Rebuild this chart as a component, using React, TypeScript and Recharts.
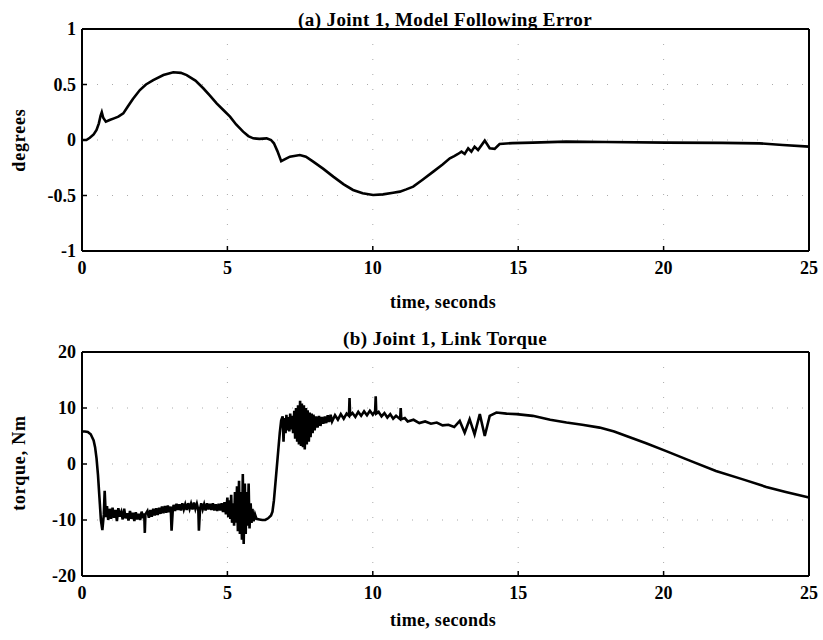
import React from 'react'
import { LineChart, Line, XAxis, YAxis, CartesianGrid } from 'recharts'

const FONT = '"Liberation Serif", "Times New Roman", serif'

const timeTicks = [0, 5, 10, 15, 20, 25]
const errorTicks = [-1, -0.5, 0, 0.5, 1]
const torqueTicks = [-20, -10, 0, 10, 20]

// (a) model following error, degrees
const errorTime = [
  0, 0.15, 0.27, 0.4, 0.5, 0.58, 0.64, 0.68, 0.73, 0.82, 0.95, 1.1, 1.25, 1.42, 1.57, 1.75, 1.99, 2.2, 2.45, 2.8,
  3.14, 3.4, 3.6, 3.9, 4.17, 4.4, 4.63, 4.86, 5.09, 5.3, 5.54, 5.72, 5.89, 6.1, 6.35, 6.5, 6.6, 6.72, 6.85, 7.0,
  7.15, 7.49, 7.7, 7.95, 8.3, 8.64, 9.0, 9.32, 9.65, 10.01, 10.35, 10.7, 10.93, 11.15, 11.39, 11.7, 12.08, 12.4,
  12.65, 12.8, 12.93, 13.05, 13.16, 13.28, 13.39, 13.5, 13.62, 13.85, 14.02, 14.19, 14.36, 14.8, 15.5, 16.65, 18.0,
  20.09, 22.0, 23.3, 24.1, 25,
]
const errorValue = [
  0, 0.0, 0.02, 0.05, 0.09, 0.15, 0.22, 0.25, 0.2, 0.165, 0.18, 0.195, 0.21, 0.24, 0.3, 0.37, 0.45, 0.5, 0.54, 0.585,
  0.61, 0.605, 0.585, 0.535, 0.466, 0.4, 0.33, 0.27, 0.21, 0.14, 0.075, 0.035, 0.015, 0.01, 0.015, 0.0, -0.03, -0.1,
  -0.19, -0.17, -0.15, -0.135, -0.15, -0.195, -0.26, -0.33, -0.4, -0.45, -0.48, -0.495, -0.49, -0.475, -0.465,
  -0.445, -0.42, -0.36, -0.285, -0.22, -0.165, -0.145, -0.126, -0.105, -0.126, -0.075, -0.105, -0.06, -0.09,
  -0.006, -0.075, -0.08, -0.036, -0.028, -0.024, -0.015, -0.018, -0.024, -0.026, -0.03, -0.045, -0.06,
]

// (b) link torque, Nm  -- [time, torque]
const torqueStart = [
  [0, 5.8], [0.1, 5.8], [0.2, 5.7], [0.3, 5.3], [0.4, 4.2], [0.45, 3.0], [0.5, 1.0], [0.55, -2], [0.6, -6],
  [0.65, -10], [0.7, -11.8], [0.75, -9], [0.78, -4.8],
]
const torqueLowBand = [
  [0.82, -9.5], [0.86, -7.5], [0.9, -10], [0.95, -8], [1.0, -9.8], [1.05, -7.8], [1.1, -9.6], [1.15, -8.2],
  [1.2, -10.2], [1.25, -7.9], [1.3, -9.4], [1.35, -8.6], [1.4, -9.9], [1.45, -8.0], [1.5, -9.7], [1.55, -8.8],
  [1.6, -10.1], [1.65, -8.4], [1.7, -9.8], [1.75, -8.7], [1.8, -10.2], [1.85, -8.6], [1.9, -9.9], [1.95, -8.9],
  [2.0, -10.0], [2.05, -8.5], [2.1, -9.7], [2.14, -8.8], [2.16, -12.3], [2.18, -9.0], [2.25, -8.4], [2.3, -9.6],
  [2.35, -8.2], [2.4, -9.4], [2.45, -8.0], [2.5, -9.2], [2.55, -7.9], [2.6, -9.1], [2.65, -7.8], [2.7, -8.9],
  [2.75, -7.6], [2.8, -8.8], [2.85, -7.5], [2.9, -8.7], [2.95, -7.4], [3.0, -8.6], [3.05, -7.6], [3.08, -11.9],
  [3.12, -8.4], [3.15, -7.3], [3.2, -8.4], [3.25, -7.1], [3.3, -8.2], [3.35, -7.2], [3.4, -8.3], [3.45, -7.0],
  [3.5, -8.1], [3.55, -7.2], [3.6, -8.2], [3.65, -7.0], [3.7, -8.0], [3.75, -7.1], [3.8, -8.1], [3.85, -6.9],
  [3.9, -8.0], [3.95, -7.1], [4.0, -8.2], [4.02, -11.9], [4.06, -8.0], [4.1, -7.0], [4.15, -8.1], [4.2, -7.2],
  [4.25, -8.3], [4.3, -7.0], [4.35, -8.1], [4.4, -7.1], [4.45, -8.2], [4.5, -7.0], [4.55, -8.3], [4.6, -7.2],
  [4.65, -8.4], [4.7, -7.1], [4.75, -8.3], [4.8, -7.0], [4.85, -8.6], [4.9, -6.8], [4.95, -9.0],
]
const torqueBurst = [
  [5.0, -6.0], [5.03, -9.5], [5.06, -6.5], [5.1, -9.8], [5.13, -5.5], [5.16, -10.5], [5.2, -7.0], [5.23, -11.0],
  [5.26, -5.0], [5.3, -10.5], [5.33, -4.0], [5.36, -12.0], [5.4, -3.0], [5.43, -12.5], [5.46, -5.0], [5.5, -13.5],
  [5.53, -1.8], [5.56, -14.3], [5.6, -3.5], [5.63, -12.5], [5.66, -5.0], [5.7, -11.0], [5.73, -3.5], [5.76, -11.5],
  [5.8, -7.0], [5.83, -10.5], [5.86, -8.0], [5.9, -10.2], [5.95, -9.0], [6.0, -9.8], [6.1, -9.9], [6.2, -10.0],
  [6.3, -10.0], [6.4, -9.7], [6.5, -9.2],
]
const torqueRise = [
  [6.55, -8.5], [6.6, -6.5], [6.65, -3.5], [6.7, -0.5], [6.75, 2.5], [6.8, 5.5], [6.85, 7.8], [6.9, 8.5],
  [6.93, 4.0], [6.96, 8.2], [7.0, 5.5], [7.03, 8.8], [7.06, 6.0], [7.1, 8.4], [7.13, 5.8], [7.16, 9.0], [7.2, 6.2],
  [7.23, 8.6], [7.26, 5.5], [7.3, 9.5], [7.33, 4.5], [7.36, 10.0], [7.4, 4.0], [7.43, 10.5], [7.46, 3.5],
  [7.5, 11.3], [7.53, 3.2], [7.56, 10.8], [7.6, 3.0], [7.63, 10.5], [7.66, 2.6], [7.7, 10.0], [7.73, 3.5],
  [7.76, 9.6], [7.8, 4.0], [7.83, 9.2], [7.86, 4.8], [7.9, 9.0], [7.93, 5.5], [7.96, 8.8], [8.0, 6.0],
]
const torqueHigh = [
  [8.05, 8.5], [8.1, 6.5], [8.15, 8.6], [8.2, 6.8], [8.25, 8.4], [8.3, 7.2], [8.35, 8.5], [8.4, 7.3], [8.45, 8.7],
  [8.5, 7.5], [8.55, 8.8], [8.6, 7.6], [8.7, 8.7], [8.8, 7.9], [8.9, 8.9], [9.0, 8.1], [9.1, 9.0], [9.18, 8.6],
  [9.2, 11.8], [9.22, 8.7], [9.3, 9.1], [9.4, 8.4], [9.5, 9.3], [9.6, 8.6], [9.7, 9.4], [9.8, 8.7], [9.9, 9.5],
  [10.0, 8.8], [10.08, 9.4], [10.1, 12.1], [10.12, 9.0], [10.2, 9.3], [10.3, 8.5], [10.4, 9.1], [10.5, 8.3],
  [10.6, 8.9], [10.7, 8.1], [10.8, 8.6], [10.94, 8.0], [10.96, 10.0], [10.98, 8.0], [11.1, 8.2], [11.2, 7.6],
  [11.4, 7.9], [11.6, 7.3], [11.8, 7.6], [12.0, 7.2], [12.2, 7.4], [12.4, 6.9], [12.6, 7.0], [12.8, 6.6],
  [12.99, 7.7], [13.16, 5.6], [13.33, 8.0], [13.5, 5.3], [13.68, 8.9], [13.85, 5.0], [14.02, 8.6],
]
const torqueTail = [
  [14.25, 9.2], [14.6, 9.0], [14.94, 8.9], [15.5, 8.6], [16.1, 7.9], [16.66, 7.4], [17.2, 7.0], [17.8, 6.5],
  [18.3, 5.8], [18.72, 5.0], [19.4, 3.7], [20.09, 2.3], [20.9, 0.6], [21.8, -1.25], [22.7, -2.7], [23.53, -4.1],
  [24.2, -5.0], [25, -6.0],
]

const errorData = errorTime.map((t, i) => ({ t, v: errorValue[i] }))
const torqueData = [...torqueStart, ...torqueLowBand, ...torqueBurst, ...torqueRise, ...torqueHigh, ...torqueTail].map(
  ([t, v]) => ({ t, v })
)

const tickStyle = { fontSize: 18, fontWeight: 700, fontFamily: FONT, fill: '#000' }
const axisLine = { stroke: '#000', strokeWidth: 2 }
const tickLine = { stroke: '#000', strokeWidth: 1.5 }

function Label({
  x,
  y,
  text,
  size = 16,
  spacing = 0,
  rotate = false,
}: {
  x: number
  y: number
  text: string
  size?: number
  spacing?: number
  rotate?: boolean
}) {
  return (
    <div
      style={{
        position: 'absolute',
        left: x,
        top: y,
        transform: `translate(-50%, -50%)${rotate ? ' rotate(-90deg)' : ''}`,
        whiteSpace: 'nowrap',
        fontFamily: FONT,
        fontWeight: 700,
        fontSize: size,
        letterSpacing: spacing,
        color: '#000',
        lineHeight: 1,
      }}
    >
      {text}
    </div>
  )
}

function Panel({
  data,
  yTicks,
  top,
  height,
  margin,
}: {
  data: { t: number; v: number }[]
  yTicks: number[]
  top: number
  height: number
  margin: { top: number; right: number; bottom: number; left: number }
}) {
  const dom: [number, number] = [yTicks[0], yTicks[yTicks.length - 1]]
  return (
    <div style={{ position: 'absolute', left: 0, top }}>
      <LineChart width={823} height={height} data={data} margin={margin}>
        <CartesianGrid stroke="#aaa" strokeDasharray="1 14" strokeWidth={1} />
        <XAxis
          dataKey="t"
          type="number"
          domain={[0, 25]}
          ticks={timeTicks}
          height={1}
          tickSize={-5}
          tickMargin={15}
          tick={tickStyle}
          axisLine={axisLine}
          tickLine={tickLine}
        />
        <XAxis
          xAxisId="top"
          dataKey="t"
          type="number"
          orientation="top"
          domain={[0, 25]}
          ticks={timeTicks}
          height={1}
          tickSize={-5}
          tick={false}
          axisLine={axisLine}
          tickLine={tickLine}
        />
        <YAxis
          type="number"
          domain={dom}
          ticks={yTicks}
          width={1}
          tickSize={-5}
          tickMargin={11}
          tick={tickStyle}
          axisLine={axisLine}
          tickLine={tickLine}
        />
        <YAxis
          yAxisId="right"
          orientation="right"
          type="number"
          domain={dom}
          ticks={yTicks}
          width={1}
          tickSize={-5}
          tick={false}
          axisLine={axisLine}
          tickLine={tickLine}
        />
        <Line
          type="linear"
          dataKey="v"
          stroke="#000"
          strokeWidth={2.6}
          dot={false}
          isAnimationActive={false}
        />
      </LineChart>
    </div>
  )
}

export default function App() {
  return (
    <div style={{ position: 'absolute', left: 0, top: 0, width: 823, height: 640, background: '#fff' }}>
      <Panel
        data={errorData}
        yTicks={errorTicks}
        top={0}
        height={330}
        margin={{ top: 28, right: 13, bottom: 78, left: 81 }}
      />
      <Panel
        data={torqueData}
        yTicks={torqueTicks}
        top={300}
        height={340}
        margin={{ top: 51, right: 13, bottom: 63, left: 81 }}
      />
      <Label x={445} y={19} size={19} spacing={0.4} text="(a) Joint 1, Model Following Error" />
      <Label x={443} y={302} size={18} spacing={0.3} text="time, seconds" />
      <Label x={19} y={140} size={18} spacing={0.8} text="degrees" rotate />
      <Label x={445} y={338} size={19} spacing={0.4} text="(b) Joint 1, Link Torque" />
      <Label x={443} y={620} size={18} spacing={0.3} text="time, seconds" />
      <Label x={19} y={463} size={18} spacing={0.8} text="torque, Nm" rotate />
    </div>
  )
}
